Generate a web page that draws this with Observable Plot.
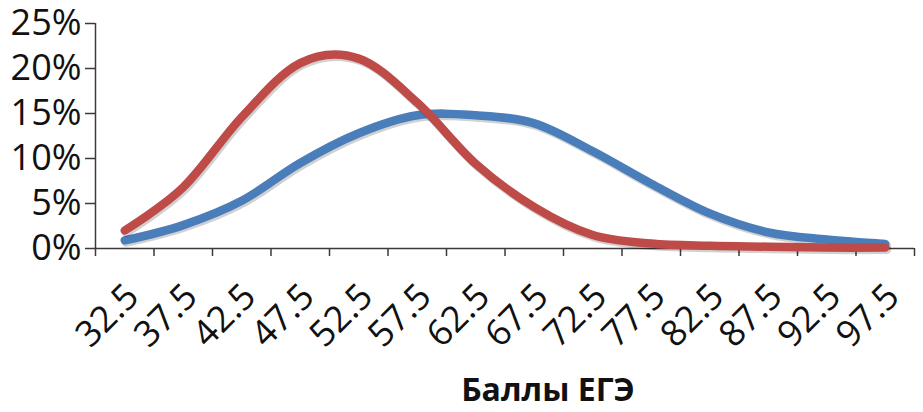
<!DOCTYPE html>
<html>
<head>
<meta charset="utf-8">
<script src="https://cdn.jsdelivr.net/npm/d3@7"></script>
<script src="https://cdn.jsdelivr.net/npm/@observablehq/plot@0.6"></script>
<style>
  html, body { margin: 0; padding: 0; background: #fff; }
  #chart svg { display: block; }
</style>
</head>
<body>
<div id="chart"></div>
<script>
const scores = [32.5, 37.5, 42.5, 47.5, 52.5, 57.5, 62.5, 67.5, 72.5, 77.5, 82.5, 87.5, 92.5, 97.5];
const blueShares = [0.9, 2.6, 5.3, 9.5, 12.8, 14.8, 14.8, 13.9, 10.8, 7.2, 3.9, 1.8, 1.0, 0.5];
const redShares  = [2.0, 6.8, 14.6, 20.6, 21.1, 16.2, 9.4, 4.6, 1.5, 0.55, 0.3, 0.2, 0.1, 0.1];
const yTicks = [0, 0.05, 0.10, 0.15, 0.20, 0.25];
const xBoundaries = d3.range(30, 100.01, 5);
const axisTitle = "Баллы ЕГЭ";

const blue = scores.map((s, i) => ({score: s, share: blueShares[i] / 100}));
const red = scores.map((s, i) => ({score: s, share: redShares[i] / 100}));

const font = "'Open Sans', sans-serif";
const axisColor = "#3a3a3a";
const curve = {curve: "cardinal", tension: 0};

const plot = Plot.plot({
  width: 923,
  height: 412,
  marginLeft: 95,
  marginRight: 9,
  marginTop: 23,
  marginBottom: 164,
  style: {fontFamily: font, background: "#fff", overflow: "visible"},
  x: {domain: [30, 100]},
  y: {domain: [0, 0.25]},
  marks: [
    Plot.axisY({ticks: yTicks, tickFormat: d => Math.round(d * 100) + "%", tickSize: 10, tickPadding: 4,
      fontSize: 36, stroke: axisColor, strokeWidth: 1.5, fill: "#111", label: null}),
    Plot.ruleX([30], {stroke: axisColor, strokeWidth: 1.5}),
    Plot.axisX({ticks: xBoundaries, tickFormat: () => "", tickSize: 8, stroke: axisColor, strokeWidth: 1.5, label: null}),
    Plot.ruleY([0], {stroke: axisColor, strokeWidth: 1.5}),
    Plot.text(scores, {x: d => d, y: 0, text: d => d.toFixed(1), rotate: -45, textAnchor: "end",
      lineAnchor: "middle", dx: 8, dy: 42, fontSize: 36, fill: "#111"}),
    Plot.text([axisTitle], {frameAnchor: "bottom", lineAnchor: "bottom", dy: 152, dx: 43,
      fontSize: 32, fontWeight: "bold", fill: "#111"}),
    // shadows
    Plot.line(blue, {x: "score", y: "share", ...curve, stroke: "#000", strokeOpacity: 0.18, strokeWidth: 9, dx: 1.5, dy: 2}),
    Plot.line(blue, {x: "score", y: "share", ...curve, stroke: "#4A7EBB", strokeWidth: 8.5, strokeLinejoin: "round"}),
    Plot.line(red, {x: "score", y: "share", ...curve, stroke: "#000", strokeOpacity: 0.18, strokeWidth: 9, dx: 1.5, dy: 2}),
    Plot.line(red, {x: "score", y: "share", ...curve, stroke: "#BE4B48", strokeWidth: 8.5, strokeLinejoin: "round"})
  ]
});
document.getElementById("chart").appendChild(plot);
</script>
</body>
</html>
